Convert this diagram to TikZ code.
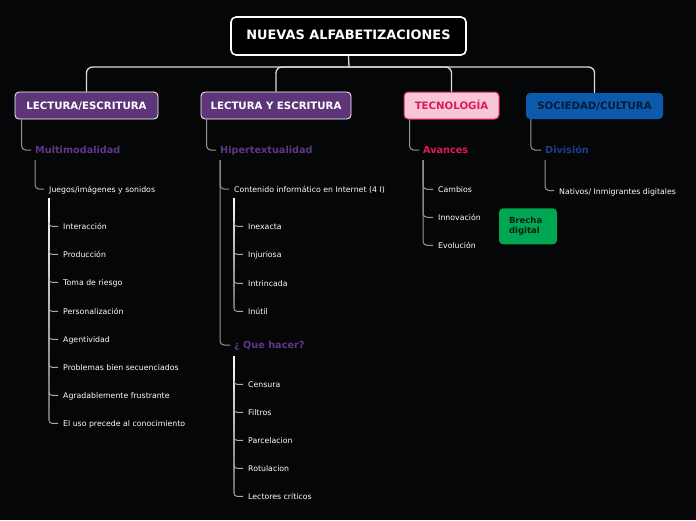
\documentclass[tikz,border=0pt]{standalone}
\usepackage{fontspec}
\setmainfont{DejaVu Sans}
\definecolor{bgc}{RGB}{5,6,8}
\definecolor{purpbox}{RGB}{94,53,120}
\definecolor{purptxt}{RGB}{96,55,134}
\definecolor{pinkfill}{RGB}{248,198,212}
\definecolor{pinkdraw}{RGB}{224,36,94}
\definecolor{pinktxt}{RGB}{216,27,96}
\definecolor{avtxt}{RGB}{226,24,90}
\definecolor{bluebox}{RGB}{11,90,171}
\definecolor{bluetxt}{RGB}{10,26,58}
\definecolor{divtxt}{RGB}{30,60,140}
\definecolor{greenbox}{RGB}{0,166,81}
\definecolor{greentxt}{RGB}{10,32,16}
\definecolor{mainc}{RGB}{220,220,220}
\definecolor{subc}{RGB}{150,150,150}
\begin{document}
\begin{tikzpicture}[x=1pt,y=-1pt,
  rootbox/.style={draw=white, line width=1.6pt, fill=black, rounded corners=5pt,
    minimum width=235pt, minimum height=38pt, inner sep=0pt, text=white,
    text height=0.73em, text depth=0pt,
    font=\bfseries\fontsize{12.9}{15}\selectfont},
  topbox/.style={rounded corners=4pt, minimum height=27pt, inner sep=0pt,
    text height=0.73em, text depth=0pt,
    font=\bfseries\fontsize{10.2}{12}\selectfont},
  head/.style={anchor=west, inner sep=0pt, text height=0.74em, text depth=0.02em,
    font=\bfseries\fontsize{9.7}{12}\selectfont},
  item/.style={anchor=west, inner sep=0pt, text=white, text height=0.74em, text depth=0.02em,
    font=\fontsize{7.8}{9}\selectfont},
  mainline/.style={draw=mainc, line width=1.3pt, rounded corners=6pt},
  subline/.style={draw=subc, line width=1pt, rounded corners=4pt},
  tickline/.style={draw=subc!80!white, line width=0.9pt, rounded corners=3pt},
  listbar/.style={top color=white, bottom color=subc!70!black}
]
\fill[bgc] (0,0) rectangle (696,520);
\useasboundingbox (0,0) rectangle (696,520);

% root
\node[rootbox] (root) at (348.5,36) {NUEVAS ALFABETIZACIONES};

% top-level boxes
\node[topbox, draw=white, line width=0.8pt, fill=purpbox, text=white, minimum width=143pt] (c1) at (86.5,105.5) {LECTURA/ESCRITURA};
\node[topbox, draw=white, line width=0.8pt, fill=purpbox, text=white, minimum width=150pt] (c2) at (276,105.5) {LECTURA Y ESCRITURA};
\node[topbox, draw=pinkdraw, line width=1pt, fill=pinkfill, text=pinktxt, minimum width=95pt] (c3) at (451.5,105.5) {TECNOLOGÍA};
\node[topbox, fill=bluebox, text=bluetxt, minimum width=137pt, minimum height=26pt] (c4) at (594.5,106) {SOCIEDAD/CULTURA};

\coordinate (jn) at (349,67);
\draw[mainline] (root.south) -- (jn);
\draw[mainline] (jn) -| (c1.north);
\draw[mainline] (jn) -| (c2.north);
\draw[mainline] (jn) -| (c3.north);
\draw[mainline] (jn) -| (c4.north);

% headings
\node[head, text=purptxt] (h1) at (35,150) {Multimodalidad};
\node[head, text=purptxt] (h2) at (220,150) {Hipertextualidad};
\node[head, text=avtxt] (h3) at (423,150) {Avances};
\node[head, text=divtxt] (h4) at (545,150) {División};

\draw[subline] ([xshift=7pt]c1.south west) |- ([xshift=-4pt]h1.west);
\draw[subline] ([xshift=6pt]c2.south west) |- ([xshift=-4pt]h2.west);
\draw[subline] ([xshift=6pt]c3.south west) |- ([xshift=-4pt]h3.west);
\draw[subline] ([xshift=5pt]c4.south west) |- ([xshift=-4pt]h4.west);

% ---------- column 1 ----------
\node[item] (j1) at (49,189) {Juegos/imágenes y sonidos};
\draw[subline] ([yshift=-6pt]h1.south west) |- ([xshift=-5pt]j1.west);

\shade[listbar] (48.1,198) rectangle (49.9,419);
\foreach \n/\y/\t in {a/226.3/Interacción, b/254.3/Producción, c/282.3/Toma de riesgo,
  d/311.3/Personalización, e/339.3/Agentividad, f/367.3/Problemas bien secuenciados,
  g/395.3/Agradablemente frustrante, h/423.3/El uso precede al conocimiento}{
  \node[item] (l1\n) at (63,\y) {\t};
  \coordinate (s1\n) at (49,\y-4);
  \draw[tickline] (s1\n) |- ([xshift=-5pt]l1\n.west);
}

% ---------- column 2 ----------
\node[item] (j2) at (234,189) {Contenido informático en Internet (4 I)};
\node[head, text=purptxt] (q2) at (234,345) {¿ Que hacer?};
\draw[subline] ([yshift=-6pt]h2.south west) |- ([xshift=-5pt]j2.west);
\draw[subline] ([yshift=-6pt]h2.south west) |- ([xshift=-4pt]q2.west);

\shade[listbar] (233.1,198) rectangle (234.9,307);
\foreach \n/\y/\t in {a/226.3/Inexacta, b/254.3/Injuriosa, c/283.3/Intrincada, d/311.3/Inútil}{
  \node[item] (l2\n) at (248,\y) {\t};
  \coordinate (s2\n) at (234,\y-4);
  \draw[tickline] (s2\n) |- ([xshift=-5pt]l2\n.west);
}

\shade[listbar] (233.1,356) rectangle (234.9,492);
\foreach \n/\y/\t in {a/384.3/Censura, b/412.3/Filtros, c/440.3/Parcelacion, d/468.3/Rotulacion, e/496.3/Lectores críticos}{
  \node[item] (l3\n) at (248,\y) {\t};
  \coordinate (s3\n) at (234,\y-4);
  \draw[tickline] (s3\n) |- ([xshift=-5pt]l3\n.west);
}

% ---------- column 3 ----------
\foreach \n/\y/\t in {a/189.3/Cambios, b/217.3/Innovación, c/245.3/Evolución}{
  \node[item] (l4\n) at (438,\y) {\t};
  \draw[subline] ([yshift=-6pt]h3.south west) |- ([xshift=-5pt]l4\n.west);
}

\node[fill=greenbox, rounded corners=4pt, minimum width=58pt, minimum height=36pt,
  text width=38pt, align=left, inner sep=0pt, text=greentxt,
  font=\bfseries\fontsize{8.5}{10.6}\selectfont] (bd) at (528,226.3) {Brecha\\digital};

% ---------- column 4 ----------
\node[item] (n4) at (559,190.5) {Nativos/ Inmigrantes digitales};
\draw[subline] ([yshift=-6pt]h4.south west) |- ([xshift=-5pt]n4.west);

\end{tikzpicture}
\end{document}
